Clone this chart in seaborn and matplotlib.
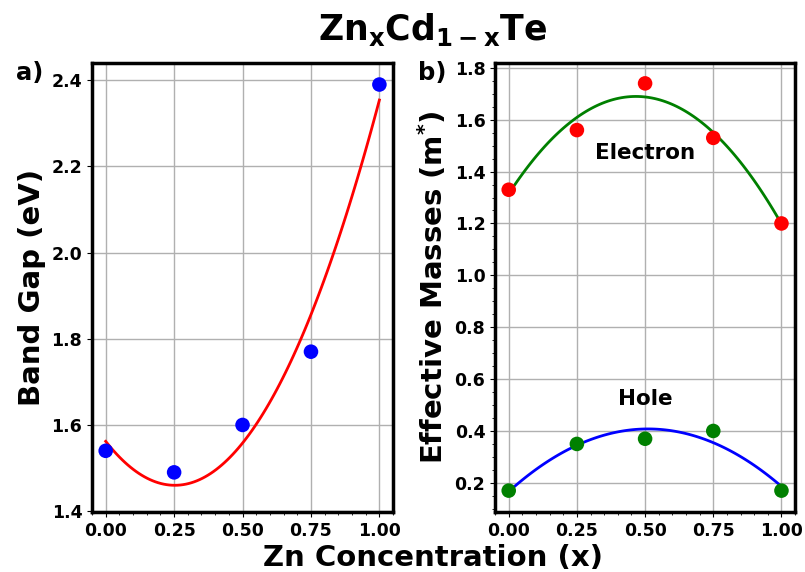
import numpy as np
import pandas as pd
import seaborn as sns
import matplotlib.pyplot as plt
from matplotlib.ticker import AutoMinorLocator

# Data
zn_x = [0.00, 0.25, 0.50, 0.75, 1.00]
band_gap = [1.54, 1.49, 1.60, 1.77, 2.39]
m_electron = [1.33, 1.56, 1.74, 1.53, 1.20]
m_hole = [0.17, 0.35, 0.37, 0.40, 0.17]

df = pd.DataFrame({'x': zn_x, 'eg': band_gap, 'me': m_electron, 'mh': m_hole})

plt.rcParams['font.family'] = ['DejaVu Sans']
plt.rcParams['font.weight'] = 'bold'

fig = plt.figure(figsize=(8.05, 5.72), dpi=100)
ax1 = fig.add_axes([0.1143, 0.1049, 0.374, 0.785])
ax2 = fig.add_axes([0.615, 0.1049, 0.3727, 0.785])

# a) band gap, quadratic fit
sns.regplot(data=df, x='x', y='eg', order=2, ci=None, scatter=False,
            line_kws={'color': 'red', 'lw': 2}, ax=ax1)
sns.scatterplot(data=df, x='x', y='eg', color='blue', s=110,
                edgecolor='none', zorder=3, ax=ax1)

# b) effective masses, quadratic fits
sns.regplot(data=df, x='x', y='me', order=2, ci=None, scatter=False,
            line_kws={'color': 'green', 'lw': 2}, ax=ax2)
sns.scatterplot(data=df, x='x', y='me', color='red', s=110,
                edgecolor='none', zorder=3, ax=ax2)
sns.regplot(data=df, x='x', y='mh', order=2, ci=None, scatter=False,
            line_kws={'color': 'blue', 'lw': 2}, ax=ax2)
sns.scatterplot(data=df, x='x', y='mh', color='green', s=110,
                edgecolor='none', zorder=3, ax=ax2)

ax2.text(0.5, 1.47, 'Electron', ha='center', va='center', fontsize=15.5, fontweight='bold')
ax2.text(0.5, 0.525, 'Hole', ha='center', va='center', fontsize=15.5, fontweight='bold')

for ax in (ax1, ax2):
    ax.set_xticks(zn_x)
    ax.xaxis.set_minor_locator(AutoMinorLocator())
    ax.grid(True, color='#b0b0b0', lw=1)
    ax.set_axisbelow(True)
    ax.set_xlabel('')
    ax.tick_params(labelsize=12.5)
    for lab in ax.get_xticklabels() + ax.get_yticklabels():
        lab.set_fontweight('bold')
    for sp in ax.spines.values():
        sp.set_linewidth(2.5)

ax1.set_ylim(1.398, 2.44)
ax2.yaxis.set_minor_locator(AutoMinorLocator())

ax1.set_ylabel('Band Gap (eV)', fontsize=21, fontweight='bold')
ax2.set_ylabel(r'Effective Masses (m$^{\mathbf{*}}$)', fontsize=21, fontweight='bold')

fig.text(0.02, 0.872, 'a)', fontsize=17.5, fontweight='bold', va='center')
fig.text(0.519, 0.872, 'b)', fontsize=17.5, fontweight='bold', va='center')

fig.suptitle(r'$\mathbf{Zn_xCd_{1-x}Te}$', fontsize=25, x=0.538, y=0.948, va='center')
fig.supxlabel('Zn Concentration (x)', fontsize=21, fontweight='bold', x=0.538, y=0.025, va='center')

fig.savefig('out.png', dpi=100)
